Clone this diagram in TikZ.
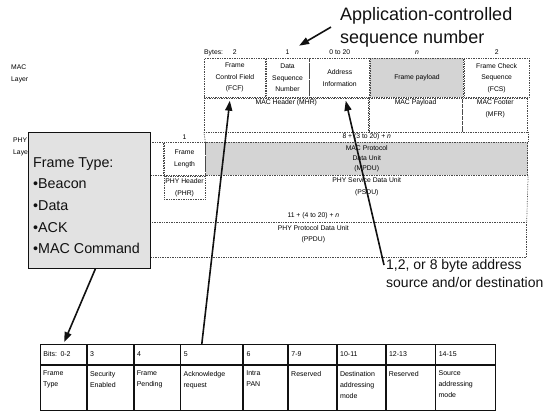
\documentclass[tikz,border=0pt]{standalone}
\usepackage{fontspec}
\setmainfont{Liberation Sans}
\usepackage{xcolor}
\usepackage{tikz}
\usetikzlibrary{arrows.meta,positioning}
\definecolor{gridgray}{HTML}{4A4A4A}
\definecolor{shadegray}{HTML}{D4D4D4}
\definecolor{calloutgray}{HTML}{E2E2E2}
\definecolor{inkblack}{HTML}{111111}
\newcommand{\cellfont}{\fontsize{6.8}{11.5}\selectfont}
\newcommand{\bitfont}{\fontsize{7}{11}\selectfont}
\newcommand{\notefont}{\fontsize{18}{23}\selectfont}
\newcommand{\addrfont}{\fontsize{14}{18.5}\selectfont}
\newcommand{\calloutfont}{\fontsize{14.3}{21.7}\selectfont}
\tikzset{
  maccell/.style={draw=gridgray, densely dotted, line width=0.7pt, anchor=north west, inner sep=0pt, align=center, font=\cellfont},
  payloadfill/.style={fill=shadegray},
  gridline/.style={draw=gridgray, densely dotted, line width=0.7pt},
  celltext/.style={inner sep=0pt, align=center, font=\cellfont},
  layerlabel/.style={inner sep=0pt, align=left, anchor=north west, font=\cellfont},
  bithead/.style={draw=inkblack, line width=0.8pt, anchor=north west, inner xsep=3pt, inner ysep=0pt, minimum height=20pt, align=left, font=\bitfont},
  bitbody/.style={draw=inkblack, line width=0.8pt, anchor=north west, inner sep=0pt, minimum height=45pt},
  bittext/.style={inner sep=0pt, align=left, font=\bitfont},
  framebox/.style={draw=inkblack, line width=0.8pt, fill=calloutgray, anchor=north west, inner sep=0pt, minimum width=122pt, minimum height=136pt},
  note/.style={inner sep=0pt, align=left, anchor=north west, text=inkblack},
  arrow/.style={-{Triangle[length=10pt, width=7pt]}, line width=1.6pt, draw=inkblack}
}

\begin{document}
\begin{tikzpicture}[x=1pt, y=-1pt]
  \useasboundingbox (0,0) rectangle (550,412);

  % MAC layer frame
  \node[maccell, minimum width=61pt, minimum height=39pt] (fcf) at (204,58) {Frame\\Control Field\\(FCF)};
  \node[maccell, minimum width=43pt, minimum height=39pt] (dsn) at (fcf.north east) {Data\\Sequence\\Number};
  \node[maccell, minimum width=60pt, minimum height=39pt] (addr) at (dsn.north east) {Address\\Information};
  \node[maccell, payloadfill, minimum width=93pt, minimum height=39pt] (payload) at (addr.north east) {Frame payload};
  \node[maccell, minimum width=65pt, minimum height=39pt] (fcs) at (payload.north east) {Frame Check\\Sequence\\(FCS)};
  \node[maccell, minimum width=164pt, minimum height=34pt] (mhr) at (fcf.south west) {};
  \node[maccell, minimum width=93pt, minimum height=34pt] (macpay) at (mhr.north east) {};
  \node[maccell, minimum width=65pt, minimum height=34pt] (mfr) at (macpay.north east) {};
  \node[celltext, below=2pt of mhr.north] (mhrtext) {MAC Header (MHR)};
  \node[celltext, below=2pt of macpay.north] (macpaytext) {MAC Payload};
  \node[celltext, below=2pt of mfr.north] (mfrtext) {MAC Footer\\(MFR)};

  % byte counts
  \node[celltext, above=3pt of fcf.north] (fcfbytes) {2};
  \node[celltext, anchor=west] (bytes) at (fcf.north west |- fcfbytes) {Bytes:};
  \node[celltext, above=3pt of dsn.north] (dsnbytes) {1};
  \node[celltext, above=3pt of addr.north] (addrbytes) {0 to 20};
  \node[celltext, above=3pt of payload.north] (paybytes) {\textit{n}};
  \node[celltext, above=3pt of fcs.north] (fcsbytes) {2};

  % PHY layer frame
  \node[maccell, minimum width=53pt, minimum height=33pt] (sfd) at (110,142) {};
  \node[maccell, minimum width=41pt, minimum height=33pt] (flen) at (sfd.north east) {Frame\\Length};
  \node[maccell, payloadfill, minimum width=322pt, minimum height=33pt, font=\fontsize{6.8}{10}\selectfont] (mpdu) at (flen.north east) {MAC Protocol\\Data Unit\\(MPDU)};
  \node[maccell, minimum width=41pt, minimum height=23pt] (phr) at (flen.south west) {PHY Header\\(PHR)};
  \node[maccell, minimum width=426pt, minimum height=35pt] (ppdu) at (100,222) {};
  \draw[gridline] (mhr.south west) -- (flen.north east);
  \draw[gridline] (mfr.south east) -- (mpdu.north east);
  \draw[gridline] (mpdu.south east) -- (ppdu.north east);
  \node[celltext, below=2pt of mpdu.south] (psdu) {PHY Service Data Unit\\(PSDU)};
  \node[celltext, below=3pt of ppdu.north] (ppdutext) {PHY Protocol Data Unit\\(PPDU)};
  \node[celltext, above=2pt of flen.north] (flenbytes) {1};
  \node[celltext, above=2pt of mpdu.north] (mpdubytes) {8 + (3 to 20) + \textit{n}};
  \node[celltext, above=3pt of ppdu.north] (ppdubytes) {11 + (4 to 20) + \textit{n}};

  \node[layerlabel] (maclayer) at (11,65) {MAC\\Layer};
  \node[layerlabel] (phylayer) at (13,138) {PHY\\Layer};

  % frame type call-out
  \node[framebox] (ftype) at (28,132) {};
  \node[note, font=\calloutfont, below right=25pt and 5pt of ftype.north west] (ftypetext) {Frame Type:\\•Beacon\\•Data\\•ACK\\•MAC Command};

  % frame control field bits
  \node[bithead, text width=40pt] (b02) at (40,344) {Bits: 0-2};
  \node[bithead, text width=40pt] (b3) at (b02.north east) {3};
  \node[bithead, text width=40pt] (b4) at (b3.north east) {4};
  \node[bithead, text width=56pt] (b5) at (b4.north east) {5};
  \node[bithead, text width=38pt] (b6) at (b5.north east) {6};
  \node[bithead, text width=42pt] (b79) at (b6.north east) {7-9};
  \node[bithead, text width=42pt] (b1011) at (b79.north east) {10-11};
  \node[bithead, text width=43pt] (b1213) at (b1011.north east) {12-13};
  \node[bithead, text width=54pt] (b1415) at (b1213.north east) {14-15};
  \node[bitbody, minimum width=46pt] (f02) at (b02.south west) {};
  \node[bitbody, minimum width=46pt] (f3) at (b3.south west) {};
  \node[bitbody, minimum width=46pt] (f4) at (b4.south west) {};
  \node[bitbody, minimum width=62pt] (f5) at (b5.south west) {};
  \node[bitbody, minimum width=44pt] (f6) at (b6.south west) {};
  \node[bitbody, minimum width=48pt] (f79) at (b79.south west) {};
  \node[bitbody, minimum width=48pt] (f1011) at (b1011.south west) {};
  \node[bitbody, minimum width=49pt] (f1213) at (b1213.south west) {};
  \node[bitbody, minimum width=60pt] (f1415) at (b1415.south west) {};
  \node[bittext, below right=6pt and 3pt of f02.north west] (t02) {Frame\\Type};
  \node[bittext, below right=6pt and 3pt of f3.north west] (t3) {Security\\Enabled};
  \node[bittext, below right=6pt and 3pt of f4.north west] (t4) {Frame\\Pending};
  \node[bittext, below right=6pt and 3pt of f5.north west] (t5) {Acknowledge\\request};
  \node[bittext, below right=6pt and 3pt of f6.north west] (t6) {Intra\\PAN};
  \node[bittext, below right=6pt and 3pt of f79.north west] (t79) {Reserved};
  \node[bittext, below right=6pt and 3pt of f1011.north west] (t1011) {Destination\\addressing\\mode};
  \node[bittext, below right=6pt and 3pt of f1213.north west] (t1213) {Reserved};
  \node[bittext, below right=6pt and 3pt of f1415.north west] (t1415) {Source\\addressing\\mode};

  % notes
  \node[note, font=\notefont] (appnote) at (340,7) {Application-controlled\\sequence number};
  \node[note, font=\addrfont] (addrnote) at (386,259) {1,2, or 8 byte address\\source and/or destination};
  \coordinate[left=9pt of appnote.west] (seqtail);

  \draw[arrow, shorten >=11pt] (seqtail) -- (dsnbytes);
  \draw[arrow, shorten >=2pt] ([xshift=6pt]ftype.south) -- (b02.north);
  \draw[arrow] ([xshift=-10pt]b5.north) -- ([shift={(-5pt,-3pt)}]fcf.south);
  \draw[arrow] ([shift={(-2pt,-6pt)}]addrnote.north west) -- ([shift={(6pt,-3pt)}]addr.south);
\end{tikzpicture}
\end{document}
